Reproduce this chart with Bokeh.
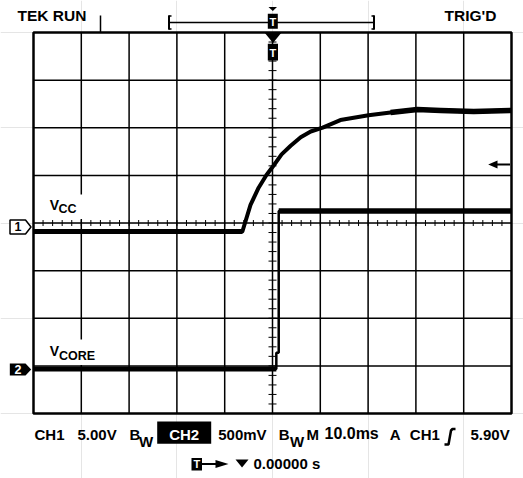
import numpy as np
from bokeh.plotting import figure
from bokeh.models import Range1d, Label
from bokeh.embed import file_html
from bokeh.resources import INLINE

# ---------------- data ----------------
# CH1 (Vcc): time in ms relative to trigger, volts
vcc_t = [-50.0, -6.3, -4.6, -2.9, -1.3, 0.2, 1.9, 3.8, 5.9, 8.0, 10.5, 14.2,
         20.1, 24.7, 30.3, 35.2, 42.1, 50.0]
vcc_v = [0.0, 0.0, 2.8, 4.6, 5.9, 6.9, 8.1, 9.0, 9.9, 10.5, 10.9, 11.7,
         12.2, 12.5, 12.8, 12.7, 12.6, 12.7]
# CH2 (Vcore)
vcore_t = [-50.0, 0.8, 0.8, 1.3, 1.3, 50.0]
vcore_v = [0.0, 0.0, 0.17, 0.17, 1.66, 1.66]

ch1_v_per_div = 5.0
ch2_v_per_div = 0.5
ms_per_div = 10.0
n_hdiv = 10
n_vdiv = 8

status_left = "TEK RUN"
status_right = "TRIG'D"
ch1_name = "CC"
ch2_name = "CORE"

# ---------------- screen calibration (layout) ----------------
M = 0            # offset of the figure on the page
W, H = 523, 478  # figure size
X0, PXX = 272.0, 47.8     # centre column (px) and px per division
Y0, PXY = 222.5, 47.625   # centre row (px) and px per division
CH1_GND_PX = 231.0
CH2_GND_PX = 368.5


def X(px):
    return (px - X0) / PXX


def Y(py):
    return (Y0 - py) / PXY


xr = Range1d(X(M), X(M + W))
yr = Range1d(Y(M + H), Y(M))

p = figure(width=W, height=H, x_range=xr, y_range=yr,
           output_backend="svg", toolbar_location=None,
           x_axis_location=None, y_axis_location=None,
           min_border=0, outline_line_color=None,
           background_fill_color="white", border_fill_color="white")

p.extra_x_ranges = {"ms": Range1d(xr.start * ms_per_div, xr.end * ms_per_div)}
g1 = Y(CH1_GND_PX)
g2 = Y(CH2_GND_PX)
p.extra_y_ranges = {
    "ch1": Range1d((yr.start - g1) * ch1_v_per_div, (yr.end - g1) * ch1_v_per_div),
    "ch2": Range1d((yr.start - g2) * ch2_v_per_div, (yr.end - g2) * ch2_v_per_div),
}

hx = n_hdiv / 2
hy = n_vdiv / 2
K = "black"

# graticule
gx = np.arange(-hx + 1, hx)
gy = np.arange(-hy + 1, hy)
p.segment(x0=gx, y0=-hy, x1=gx, y1=hy, line_color=K, line_width=1.5)
p.segment(x0=-hx, y0=gy, x1=hx, y1=gy, line_color=K, line_width=1.5)

# white boxes behind the trace names
p.quad(left=X(40), right=X(84), top=Y(194), bottom=Y(218.5),
       fill_color="white", line_color=None)
p.quad(left=X(40), right=X(100), top=Y(339), bottom=Y(364.5),
       fill_color="white", line_color=None)

# minor ticks on the centre lines
tx = np.round(np.arange(-hx, hx + 0.001, 0.2), 3)
ty = np.round(np.arange(-hy, hy + 0.001, 0.2), 3)
p.segment(x0=tx, y0=-3 / PXY, x1=tx, y1=3 / PXY, line_color=K, line_width=1)
p.segment(x0=-4 / PXX, y0=ty, x1=4 / PXX, y1=ty, line_color=K, line_width=1)

# traces
p.line(vcc_t, vcc_v, x_range_name="ms", y_range_name="ch1",
       line_color=K, line_width=4, line_join="round")
p.line(vcc_t[:2], vcc_v[:2], x_range_name="ms", y_range_name="ch1",
       line_color=K, line_width=5)
p.line(vcc_t[13:], vcc_v[13:], x_range_name="ms", y_range_name="ch1",
       line_color=K, line_width=5.5, line_join="round")
p.line(vcore_t, vcore_v, x_range_name="ms", y_range_name="ch2",
       line_color=K, line_width=2.5)
p.line(vcore_t[:2], vcore_v[:2], x_range_name="ms", y_range_name="ch2",
       line_color=K, line_width=5)
p.line(vcore_t[4:], vcore_v[4:], x_range_name="ms", y_range_name="ch2",
       line_color=K, line_width=5.5)

# border
p.quad(left=-hx, right=hx, bottom=-hy, top=hy, fill_color=None,
       line_color=K, line_width=2.5)


def poly(pts, fill=K, line=None, lw=1):
    p.patch([X(a) for a, b in pts], [Y(b) for a, b in pts],
            fill_color=fill, line_color=line, line_width=lw)


def box(l, r, t, b, fill=K):
    p.quad(left=X(l), right=X(r), top=Y(t), bottom=Y(b),
           fill_color=fill, line_color=None)


def seg(x0, y0, x1, y1, lw=1.5):
    p.segment(x0=X(x0), y0=Y(y0), x1=X(x1), y1=Y(y1), line_color=K, line_width=lw)


def lab(txt, px, py, size=15, color=K, align="left"):
    # py is the wanted baseline in screen px; compensate label placement
    yb = py - 0.36 * size
    p.add_layout(Label(x=X(px), y=Y(yb), text=txt, text_font="Liberation Sans",
                       text_font_size=f"{size}px", text_font_style="bold",
                       text_color=color, text_align=align,
                       text_baseline="alphabetic"))


# top decorations
seg(100, 15, 100, 32)
seg(168, 22, 374, 22)
seg(168.5, 15, 168.5, 29, 2)
seg(168, 15.5, 171, 15.5, 1.5)
seg(168, 28.5, 171, 28.5, 1.5)
seg(373.5, 15, 373.5, 29, 2)
seg(371, 15.5, 374, 15.5, 1.5)
seg(371, 28.5, 374, 28.5, 1.5)
poly([(268, 6.5), (276.5, 6.5), (272.3, 10.5)])
box(267.3, 277.3, 13.3, 28.3)
poly([(264, 32), (281, 32), (272.5, 42.5)])
box(267.3, 277.5, 43.3, 60)

# trigger level arrow
seg(493, 164, 509.5, 164, 2)
poly([(487.7, 164), (497, 160), (497, 168)])

# channel ground markers
poly([(9.5, 219.5), (25, 219.5), (30.5, 226.5), (25, 233.5), (9.5, 233.5)],
     fill="white", line=K, lw=1.5)
poly([(9.3, 363), (25, 363), (30.7, 369), (25, 375), (9.3, 375)])

# readout line decorations
box(156.7, 210.7, 421, 443.3)
p.line([X(444), X(448), X(450.5), X(452), X(455)],
       [Y(444), Y(444), Y(430), Y(428.5), Y(428.5)],
       line_color=K, line_width=2.5)
box(191, 201.5, 457.5, 470)
seg(201.5, 463.5, 216, 463.5, 2)
poly([(215, 459.5), (228, 463.5), (215, 467.5)])
poly([(235, 459), (248, 459), (241.5, 467)])

# texts
lab(status_left, 17, 21, 15.5)
lab(status_right, 444, 20.5, 15.5)
lab("T", 272.4, 25, 11, "white", "center")
lab("T", 272.4, 56, 11, "white", "center")
lab("1", 17.5, 230.5, 12.5, K, "center")
lab("2", 17.5, 373.5, 12.5, "white", "center")
lab("V", 49.3, 209.3, 14)
lab(ch1_name, 58, 213.3, 12.5)
lab("V", 49.3, 355.7, 14)
lab(ch2_name, 58.5, 360, 12.5)

lab("CH1", 34, 439)
lab("5.00V", 77, 439)
lab("B", 129, 439)
lab("W", 138.5, 446.5)
lab("CH2", 183.7, 439, 15, "white", "center")
lab("500mV", 217.7, 439)
lab("B", 278.3, 439)
lab("W", 289.5, 446.5)
lab("M", 306, 439)
lab("10.0ms", 324, 439, 16)
lab("A", 389.3, 439)
lab("CH1", 409.3, 439)
lab("5.90V", 470, 439)
lab("T", 196.3, 467.5, 11, "white", "center")
lab("0.00000 s", 253, 468.5)

open("out.html", "w").write(file_html(p, INLINE))
